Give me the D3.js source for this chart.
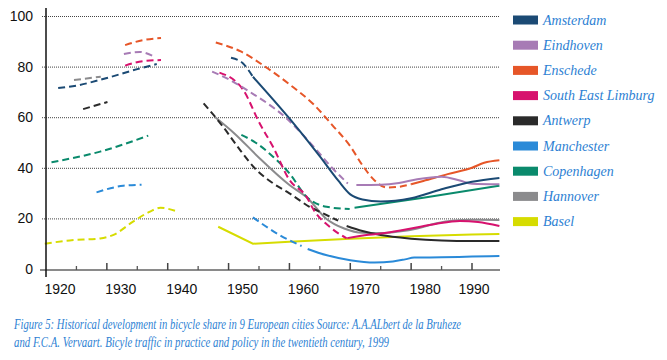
<!DOCTYPE html>
<html><head><meta charset="utf-8">
<script src="https://cdn.jsdelivr.net/npm/d3@7"></script>
<style>
body{margin:0;background:#fff;}
svg{display:block;}
</style></head>
<body>
<svg id="c" width="667" height="360"></svg>
<script>
// ---------- DATA ----------
const cities = ["Amsterdam","Eindhoven","Enschede","South East Limburg","Antwerp","Manchester","Copenhagen","Hannover","Basel"];
const yTicks = [0,20,40,60,80,100];
const xTicks = [1920,1930,1940,1950,1960,1970,1980,1990];

// each city: dashed segments (estimates) and solid segments (measurements)
const amsterdamDashed = [
  [[1922,71.5],[1925,72.5],[1930,75.5],[1935,79],[1938.2,81]],
  [[1950.4,83.5],[1952.3,81.4],[1954,76]]
];
const amsterdamSolid = [
  [[1954,76],[1960,59.5],[1965,44.5],[1968,35],[1970,29.5],[1972,27.5],[1975,26.7],[1980,28],[1985,31.5],[1990,34.5],[1994.5,36]]
];
const eindhovenDashed = [
  [[1932.8,85],[1935.4,85.8],[1937.5,84.3]],
  [[1947.3,78],[1950,75],[1953.5,70],[1959.5,59.6],[1964.2,47.7],[1967,40],[1969.6,33.8]]
];
const eindhovenSolid = [
  [[1971,33.2],[1975,33.3],[1978,34],[1981,35.5],[1985,36.5],[1988,35],[1990,33.7],[1994.5,33.5]]
];
const enschedeDashed = [
  [[1933,88.5],[1936,90.5],[1938.9,91.3]],
  [[1947.9,89.5],[1952,86],[1956,80],[1960,73],[1964,65],[1967,57],[1970,48.5],[1972,41],[1974,35],[1976,32.2],[1978,32.5],[1980,33.5]]
];
const enschedeSolid = [
  [[1980,33.5],[1982,34.8],[1986,37.5],[1990,40],[1992,42],[1994.5,43]]
];
const limburgDashed = [
  [[1933,80.4],[1936,82.2],[1938.9,82.6]],
  [[1948.5,77.6],[1952.4,70.8],[1955.1,57.6],[1957.3,48.3],[1960,35.2],[1962.8,28.6],[1964,23.3],[1966.6,16.7],[1969.4,12.1]]
];
const limburgSolid = [
  [[1969.5,12.2],[1973,13.5],[1976,14.3],[1980,16],[1984,17.8],[1988,19],[1991,18.6],[1994.5,17]]
];
const antwerpDashed = [
  [[1926.1,63.2],[1930.1,66]],
  [[1945.9,65.5],[1949.1,56.2],[1951.9,47],[1954.6,39.1],[1957.3,33.9],[1960,29.9],[1963.3,24.6],[1965.5,22],[1968,19.1]]
];
const antwerpSolid = [
  [[1969.4,17],[1972,15],[1975,13.4],[1980,12],[1985,11.3],[1990,11.1],[1994.5,11.1]]
];
const manchesterDashed = [
  [[1928.3,30.3],[1932.7,32.9],[1935.7,33.3]],
  [[1954,20.4],[1958.4,13.4],[1962,9.1]]
];
const manchesterSolid = [
  [[1963,7.9],[1966,5.5],[1970,3.5],[1974,2.6],[1977,3],[1979,3.8],[1980.5,4.5],[1985,4.6],[1990,4.9],[1994.5,5.1]]
];
const copenhagenDashed = [
  [[1920.9,42.2],[1928.9,46.4],[1936.8,52.7]],
  [[1952.1,53],[1954.6,49.7],[1957.3,44.4],[1960,37.8],[1962.8,28.6],[1966.1,24.6],[1969.9,23.7]]
];
const copenhagenSolid = [
  [[1970.7,24.2],[1982,28.2],[1994.5,32.9]]
];
const hannoverDashed = [
  [[1924.6,74.7],[1929,76]]
];
const hannoverSolid = [
  [[1947.8,60],[1951,53.5],[1955,44],[1960,33.2],[1963,28],[1966,20],[1969,16],[1972,14.3],[1975,14.2],[1978,14.8],[1981,16],[1984,18],[1987,19.2],[1990,19.5],[1994.5,19.4]]
];
const baselDashed = [
  [[1919.8,10],[1923.9,11.3],[1928.9,12.1],[1931,13.4],[1934.3,18.7],[1937.1,22.7],[1938.8,24.2],[1941.2,23]]
];
const baselSolid = [
  [[1948.3,16.7],[1954,10],[1960,10.8],[1970,12],[1980,12.9],[1990,13.6],[1994.5,13.8]]
];

const cityData = [
  {dashed: amsterdamDashed, solid: amsterdamSolid},
  {dashed: eindhovenDashed, solid: eindhovenSolid},
  {dashed: enschedeDashed, solid: enschedeSolid},
  {dashed: limburgDashed, solid: limburgSolid},
  {dashed: antwerpDashed, solid: antwerpSolid},
  {dashed: manchesterDashed, solid: manchesterSolid},
  {dashed: copenhagenDashed, solid: copenhagenSolid},
  {dashed: hannoverDashed, solid: hannoverSolid},
  {dashed: baselDashed, solid: baselSolid}
];
const caption1 = "Figure 5: Historical development in bicycle share in 9 European cities Source: A.A.ALbert de la Bruheze";
const caption2 = "and F.C.A. Vervaart. Bicyle traffic in practice and policy in the twentieth century, 1999";

// ---------- STYLE ----------
const palette = ["#1b4a74","#a77bb5","#e65628","#d7126e","#2a2a2a","#2a8ad8","#0a8a6c","#8b8b8d","#d6dc00"];
const textBlue = "#2d7fd3";

const svg = d3.select("#c");
const x = d3.scaleLinear().domain([1920,1990]).range([46,472]);
const y = d3.scaleLinear().domain([0,100]).range([269,16]);

// grid lines
svg.append("g").selectAll("line").data(yTicks.filter(d=>d>0)).join("line")
  .attr("x1",42).attr("x2",x(1994.6))
  .attr("y1",d=>y(d)+0.5).attr("y2",d=>y(d)+0.5)
  .attr("stroke","#444").attr("stroke-width",1).attr("stroke-dasharray","1,1");

// y labels
svg.append("g").selectAll("text").data(yTicks).join("text")
  .attr("x",33).attr("y",d=>y(d)).attr("dy","0.35em")
  .attr("text-anchor","end")
  .attr("font-family","Liberation Sans, Arial, sans-serif").attr("font-size",14).attr("fill","#111")
  .text(d=>d);

// series
const lineGen = d3.line().x(d=>x(d[0])).y(d=>y(d[1])).curve(d3.curveMonotoneX);
const lineLin = d3.line().x(d=>x(d[0])).y(d=>y(d[1]));
const gSeries = svg.append("g").attr("fill","none");
cityData.map((c,i)=>({c,i})).reverse().forEach(({c,i})=>{
  c.dashed.forEach(seg=>{
    gSeries.append("path").attr("d",lineGen(seg))
      .attr("stroke",palette[i]).attr("stroke-width",2).attr("stroke-dasharray","7,4");
  });
  c.solid.forEach(seg=>{
    gSeries.append("path").attr("d",(i===8?lineLin:lineGen)(seg))
      .attr("stroke",palette[i]).attr("stroke-width",2);
  });
});

// x axis
svg.append("line").attr("x1",40).attr("x2",x(1994.6)).attr("y1",270).attr("y2",270)
  .attr("stroke","#8a8a8a").attr("stroke-width",2);
const minor = d3.range(1925,1995,10);
svg.append("g").selectAll("line").data(minor).join("line")
  .attr("x1",d=>x(d)).attr("x2",d=>x(d)).attr("y1",266).attr("y2",270)
  .attr("stroke","#555").attr("stroke-width",1.3);
svg.append("g").selectAll("line").data(xTicks.slice(1)).join("line")
  .attr("x1",d=>x(d)).attr("x2",d=>x(d)).attr("y1",263).attr("y2",270)
  .attr("stroke","#444").attr("stroke-width",1.5);
// y axis line
svg.append("line").attr("x1",46).attr("x2",46).attr("y1",8).attr("y2",277)
  .attr("stroke","#111").attr("stroke-width",1.5);

// x labels
svg.append("g").selectAll("text").data(xTicks).join("text")
  .attr("x",(d,i)=> i===xTicks.length-1 ? x(d)+2 : x(d)+14).attr("y",294)
  .attr("text-anchor","middle")
  .attr("font-family","Liberation Sans, Arial, sans-serif").attr("font-size",14).attr("fill","#111")
  .text(d=>d);

// legend
const lg = svg.append("g");
cities.forEach((name,i)=>{
  const cy = 20 + i*25.2;
  lg.append("rect").attr("x",513).attr("y",cy-4.5).attr("width",25).attr("height",9).attr("fill",palette[i]);
  lg.append("text").attr("x",543).attr("y",cy).attr("dy","0.33em")
    .attr("font-family","Liberation Serif, Times New Roman, serif").attr("font-style","italic")
    .attr("font-size",14).attr("fill",textBlue).text(name);
});

// caption
svg.append("text").attr("x",14).attr("y",329)
  .attr("font-family","Liberation Serif, Times New Roman, serif").attr("font-style","italic")
  .attr("font-size",14).attr("fill",textBlue)
  .attr("textLength",447).attr("lengthAdjust","spacingAndGlyphs").text(caption1);
svg.append("text").attr("x",14).attr("y",347)
  .attr("font-family","Liberation Serif, Times New Roman, serif").attr("font-style","italic")
  .attr("font-size",14).attr("fill",textBlue)
  .attr("textLength",375).attr("lengthAdjust","spacingAndGlyphs").text(caption2);
</script>
</body></html>
